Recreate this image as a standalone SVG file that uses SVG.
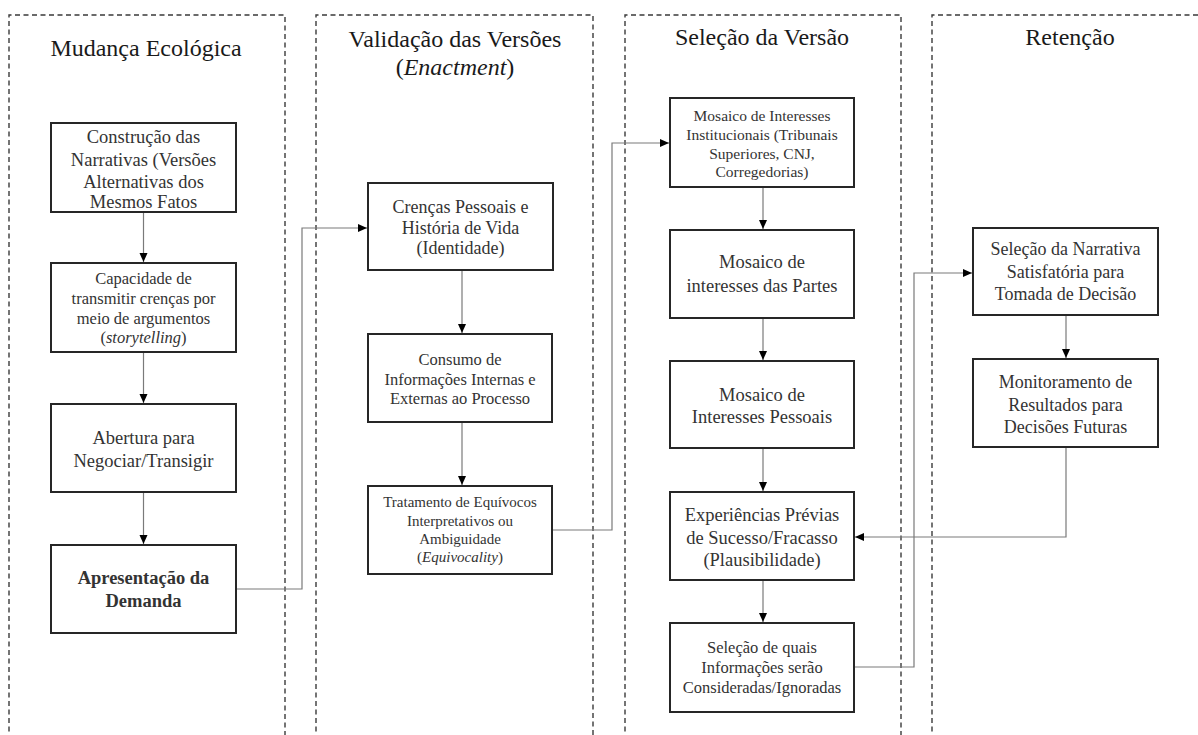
<svg xmlns="http://www.w3.org/2000/svg" width="1198" height="735" viewBox="0 0 1198 735">
<style>
.lane{fill:none;stroke:#3a3a3a;stroke-width:1.4;stroke-dasharray:5 3.5}
.box{fill:#fff;stroke:#262626;stroke-width:2}
.t{font-family:"Liberation Serif","Times New Roman",serif;fill:#333;text-anchor:middle}
.title{font-family:"Liberation Serif","Times New Roman",serif;fill:#1a1a1a;text-anchor:middle;font-size:24px}
.conn{fill:none;stroke:#7a7a7a;stroke-width:1.2}
</style>
<defs>
<marker id="ah" markerUnits="userSpaceOnUse" markerWidth="10" markerHeight="10" refX="9" refY="4" orient="auto">
<path d="M0,0 L9,4 L0,8 Z" fill="#000"/>
</marker>
</defs>
<rect width="1198" height="735" fill="#fff"/>

<g id="lanes">
<path class="lane" d="M9,740 V15 H285 V740"/>
<path class="lane" d="M316,740 V15 H593 V740"/>
<path class="lane" d="M625,740 V15 H901 V740"/>
<path class="lane" d="M932,740 V15 H1205"/>
<text class="title" x="146" y="56">Mudança Ecológica</text>
<text class="title" x="455" y="47">Validação das Versões</text>
<text class="title" x="455" y="75">(<tspan font-style="italic">Enactment</tspan>)</text>
<text class="title" x="762" y="45">Seleção da Versão</text>
<text class="title" x="1070" y="45">Retenção</text>
</g>

<g id="connectors">
<path class="conn" d="M143.5,212 V262" marker-end="url(#ah)"/>
<path class="conn" d="M143.5,352 V403" marker-end="url(#ah)"/>
<path class="conn" d="M143.5,492 V544" marker-end="url(#ah)"/>
<path class="conn" d="M236,589 H302 V228 H367" marker-end="url(#ah)"/>
<path class="conn" d="M462,270 V333" marker-end="url(#ah)"/>
<path class="conn" d="M462,422 V485" marker-end="url(#ah)"/>
<path class="conn" d="M552,530 H612 V143 H669" marker-end="url(#ah)"/>
<path class="conn" d="M763,187 V229" marker-end="url(#ah)"/>
<path class="conn" d="M763,318 V360" marker-end="url(#ah)"/>
<path class="conn" d="M763,448 V491" marker-end="url(#ah)"/>
<path class="conn" d="M763,580 V622" marker-end="url(#ah)"/>
<path class="conn" d="M854,667 H914 V273 H972" marker-end="url(#ah)"/>
<path class="conn" d="M1066,315 V358" marker-end="url(#ah)"/>
<path class="conn" d="M1066,447 V537 H855" marker-end="url(#ah)"/>
</g>

<g id="n1">
<rect class="box" x="51" y="123" width="185" height="89"/>
<text class="t" font-size="18.5"><tspan x="143.5" y="143">Construção das</tspan><tspan x="143.5" y="166">Narrativas (Versões</tspan><tspan x="143.5" y="188">Alternativas dos</tspan><tspan x="143.5" y="208">Mesmos Fatos</tspan></text>
</g>
<g id="n2">
<rect class="box" x="51" y="263" width="185" height="89"/>
<text class="t" font-size="16.5"><tspan x="143.5" y="284">Capacidade de</tspan><tspan x="143.5" y="304">transmitir crenças por</tspan><tspan x="143.5" y="324">meio de argumentos</tspan><tspan x="143.5" y="343">(<tspan font-style="italic">storytelling</tspan>)</tspan></text>
</g>
<g id="n3">
<rect class="box" x="51" y="404" width="185" height="88"/>
<text class="t" font-size="18.5"><tspan x="143.5" y="444">Abertura para</tspan><tspan x="143.5" y="467">Negociar/Transigir</tspan></text>
</g>
<g id="n4">
<rect class="box" x="51" y="545" width="185" height="88"/>
<text class="t" font-size="18.5" font-weight="bold" fill="#111"><tspan x="143.5" y="584">Apresentação da</tspan><tspan x="143.5" y="607">Demanda</tspan></text>
</g>

<g id="n5">
<rect class="box" x="368" y="183" width="185" height="87"/>
<text class="t" font-size="18"><tspan x="460.5" y="213">Crenças Pessoais e</tspan><tspan x="460.5" y="234">História de Vida</tspan><tspan x="460.5" y="254">(Identidade)</tspan></text>
</g>
<g id="n6">
<rect class="box" x="368" y="334" width="184" height="88"/>
<text class="t" font-size="16.5"><tspan x="460" y="365">Consumo de</tspan><tspan x="460" y="385">Informações Internas e</tspan><tspan x="460" y="404">Externas ao Processo</tspan></text>
</g>
<g id="n7">
<rect class="box" x="368" y="486" width="184" height="88"/>
<text class="t" font-size="15"><tspan x="460" y="507">Tratamento de Equívocos</tspan><tspan x="460" y="526">Interpretativos ou</tspan><tspan x="460" y="544">Ambiguidade</tspan><tspan x="460" y="562">(<tspan font-style="italic">Equivocality</tspan>)</tspan></text>
</g>

<g id="n8">
<rect class="box" x="670" y="98" width="184" height="89"/>
<text class="t" font-size="15.5"><tspan x="762" y="121">Mosaico de Interesses</tspan><tspan x="762" y="140">Institucionais (Tribunais</tspan><tspan x="762" y="159">Superiores, CNJ,</tspan><tspan x="762" y="177">Corregedorias)</tspan></text>
</g>
<g id="n9">
<rect class="box" x="670" y="230" width="184" height="88"/>
<text class="t" font-size="18.5"><tspan x="762" y="268">Mosaico de</tspan><tspan x="762" y="292">interesses das Partes</tspan></text>
</g>
<g id="n10">
<rect class="box" x="670" y="361" width="184" height="87"/>
<text class="t" font-size="18.5"><tspan x="762" y="401">Mosaico de</tspan><tspan x="762" y="423">Interesses Pessoais</tspan></text>
</g>
<g id="n11">
<rect class="box" x="670" y="492" width="184" height="88"/>
<text class="t" font-size="18.5"><tspan x="762" y="521">Experiências Prévias</tspan><tspan x="762" y="544">de Sucesso/Fracasso</tspan><tspan x="762" y="566">(Plausibilidade)</tspan></text>
</g>
<g id="n12">
<rect class="box" x="670" y="623" width="184" height="89"/>
<text class="t" font-size="16.5"><tspan x="762" y="653">Seleção de quais</tspan><tspan x="762" y="673">Informações serão</tspan><tspan x="762" y="693">Consideradas/Ignoradas</tspan></text>
</g>

<g id="n13">
<rect class="box" x="973" y="228" width="185" height="87"/>
<text class="t" font-size="18"><tspan x="1065.5" y="255">Seleção da Narrativa</tspan><tspan x="1065.5" y="278">Satisfatória para</tspan><tspan x="1065.5" y="300">Tomada de Decisão</tspan></text>
</g>
<g id="n14">
<rect class="box" x="973" y="359" width="185" height="88"/>
<text class="t" font-size="18"><tspan x="1065.5" y="388">Monitoramento de</tspan><tspan x="1065.5" y="411">Resultados para</tspan><tspan x="1065.5" y="433">Decisões Futuras</tspan></text>
</g>
</svg>
